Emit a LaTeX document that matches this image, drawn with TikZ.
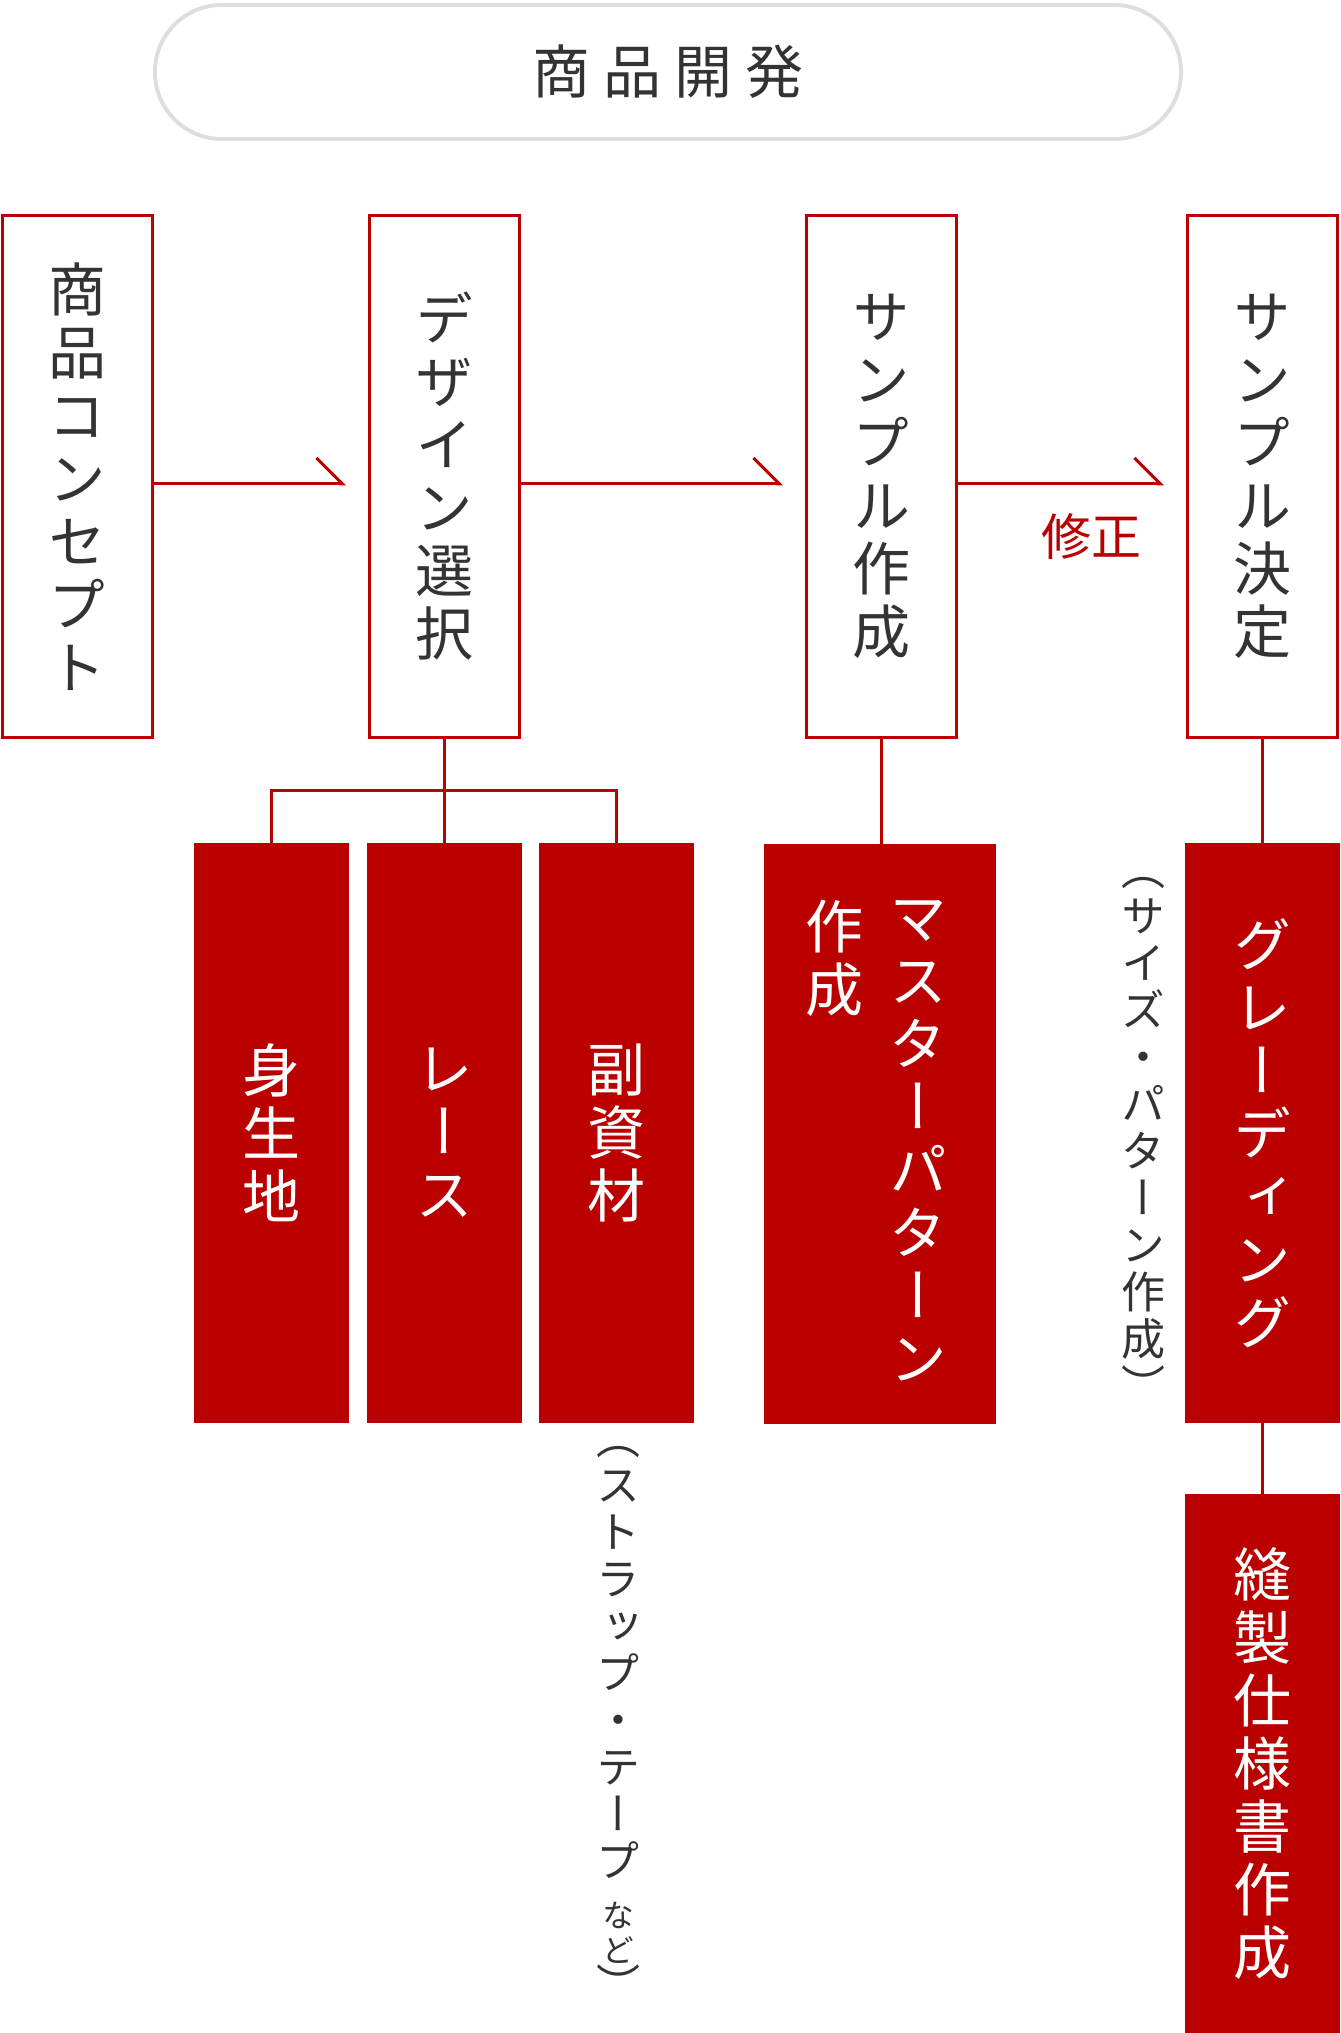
\documentclass[tikz,border=0pt]{standalone}
\usepackage{fontspec}
\setmainfont{Noto Sans CJK JP}
\newfontfamily\vertfont[RawFeature=+vert]{Noto Sans CJK JP}
\usepackage{xcolor}
\usetikzlibrary{arrows.meta, positioning, calc}

\definecolor{brandred}{HTML}{BB0000}
\definecolor{inkgray}{HTML}{333333}
\definecolor{pillgray}{HTML}{DCDFE2}

\begin{document}
\begin{tikzpicture}[x=0.75pt, y=-0.75pt,
  every node/.style={inner sep=0pt},
  pill/.style={draw=pillgray, line width=3pt, rounded corners=50pt, minimum width=769.5pt, minimum height=100.5pt, text=inkgray, font=\fontsize{43.5}{47.25}\selectfont},
  stage/.style={draw=brandred, line width=2.25pt, fill=white, minimum width=112.5pt, minimum height=391.5pt, align=center, text=inkgray, font=\vertfont\fontsize{43.5}{47.25}\selectfont},
  item/.style={fill=brandred, minimum width=116.25pt, minimum height=435pt, align=center, text=white, font=\vertfont\fontsize{43.5}{47.25}\selectfont},
  vcol/.style={align=center, text=white, font=\vertfont\fontsize{43.5}{47.25}\selectfont},
  note/.style={align=center, text=inkgray, font=\vertfont\fontsize{33}{35.25}\selectfont},
  link/.style={draw=brandred, line width=2.25pt},
  flow/.style={link, -{Straight Barb[left, length=19.5pt, width=39pt]}, shorten >=16.5pt}]

  \useasboundingbox (0,0) rectangle (1340,2033);

  % title
  \node[pill] (title) at (668,72) {商\hspace{9.75pt}品\hspace{9.75pt}開\hspace{9.75pt}発};

  % main steps
  \node[stage] (concept) at (77.5,476.5) {商\\品\\コ\\ン\\セ\\プ\\ト};
  \node[stage] (design) at (444.5,476.5) {デ\\ザ\\イ\\ン\\選\\択};
  \node[stage] (make) at (881.5,476.5) {サ\\ン\\プ\\ル\\作\\成};
  \node[stage] (decide) at (1262.5,476.5) {サ\\ン\\プ\\ル\\決\\定};

  \draw[flow] ([yshift=-5.6pt]concept.east) -- ([yshift=-5.6pt]design.west);
  \draw[flow] ([yshift=-5.6pt]design.east) -- ([yshift=-5.6pt]make.west);
  \draw[flow] ([yshift=-5.6pt]make.east) -- ([yshift=-5.6pt]decide.west);
  \node[text=brandred, font=\fontsize{37.5}{40}\selectfont] (fix) at (1091,536) {修正};

  % materials
  \node[item] (body) at (271.5,1133) {身\\生\\地};
  \node[item] (lace) at (444.5,1133) {レ\\ー\\ス};
  \node[item] (sub) at (616.5,1133) {副\\資\\材};
  \node[note] (subnote) at (618,1724) {（\\ス\\ト\\ラ\\ッ\\プ\\・\\テ\\ー\\プ\\[2pt]{\fontsize{24}{26}\selectfont な}\\[-9pt]{\fontsize{24}{26}\selectfont ど}\\[-6pt]）};

  \coordinate (fork) at (444.5,790);
  \draw[link] (design.south) -- (lace.north);
  \draw[link] (body.north) |- (fork) -| (sub.north);

  % patterns
  \node[item, minimum width=174pt] (master) at (880,1134) {};
  \node[vcol, anchor=north] (mastera) at (918,900) {マ\\ス\\タ\\ー\\パ\\タ\\ー\\ン};
  \node[vcol, anchor=north] (masterb) at (834,900) {作\\成};
  \draw[link] (make.south) -- (make.south |- master.north);

  \node[item] (grading) at (1262.5,1133) {グ\\レ\\ー\\デ\\ィ\\ン\\グ};
  \node[note] (gradenote) at (1143,1140) {（\\サ\\イ\\ズ\\・\\パ\\タ\\ー\\ン\\作\\成\\）};
  \node[item, minimum height=404.25pt] (spec) at (1262.5,1763.5) {縫\\製\\仕\\様\\書\\作\\成};
  \draw[link] (decide.south) -- (grading.north);
  \draw[link] (grading.south) -- (spec.north);
\end{tikzpicture}
\end{document}
